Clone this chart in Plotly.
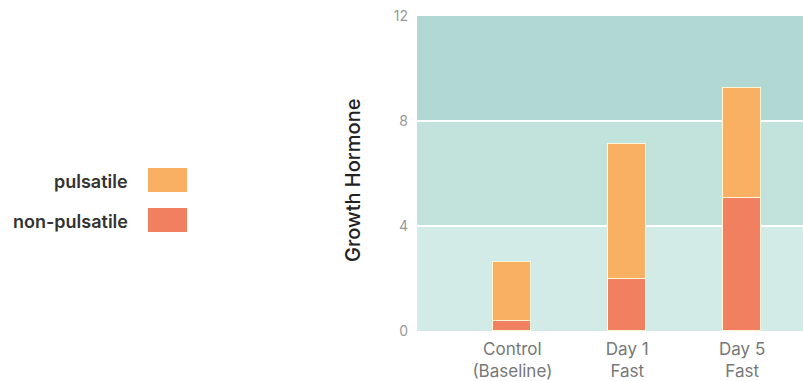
import plotly.graph_objects as go

# Chart data
categories = ["Control<br>(Baseline)", "Day 1<br>Fast", "Day 5<br>Fast"]
non_pulsatile = [0.4, 2.0, 5.05]
pulsatile_total = [2.62, 7.12, 9.26]
pulsatile = [t - n for t, n in zip(pulsatile_total, non_pulsatile)]
y_ticks = [0, 4, 8, 12]

series_names = ["pulsatile", "non-pulsatile"]
series_colors = ["#f9b063", "#f0805f"]

W, H = 803, 381
M_T, M_B = 16, 50
plot_left = 417
FONT = "Inter"


def py(px):
    """Convert a pixel row into paper y coordinates."""
    return 1 - (px - M_T) / (H - M_T - M_B)


fig = go.Figure()
fig.add_trace(go.Bar(x=[0, 1, 2], y=non_pulsatile, name=series_names[1],
                     marker=dict(color=series_colors[1], line=dict(color="#fff6d8", width=1.5)),
                     width=0.33))
fig.add_trace(go.Bar(x=[0, 1, 2], y=pulsatile, name=series_names[0],
                     marker=dict(color=series_colors[0], line=dict(color="#fff6d8", width=1.5)),
                     width=0.33))

# Banded background behind the bars
bands = [(0, 4, "#d3ebe6"), (4, 8, "#c2e2dc"), (8, 12, "#b1d8d2")]
shapes = []
for y0, y1, c in bands:
    shapes.append(dict(type="rect", xref="paper", yref="y", x0=plot_left / W, x1=1,
                       y0=y0, y1=y1, fillcolor=c, line=dict(width=0), layer="below"))

# Custom legend: label on the left, swatch on the right
annotations = []
legend_rows = [(series_names[0], series_colors[0], 180), (series_names[1], series_colors[1], 220)]
for name, color, yc in legend_rows:
    shapes.append(dict(type="rect", xref="paper", yref="paper",
                       x0=148 / W, x1=187 / W, y0=py(yc + 12), y1=py(yc - 12),
                       fillcolor=color, line=dict(width=0)))
    annotations.append(dict(xref="paper", yref="paper", x=130 / W, y=py(yc + 1),
                            text=name, showarrow=False, xanchor="right", yanchor="middle",
                            font=dict(family=FONT, size=18, color="#333333", weight=600)))

# Rotated y-axis title
annotations.append(dict(xref="paper", yref="paper", x=353 / W, y=py(181),
                        text="Growth Hormone", showarrow=False, textangle=-90,
                        xanchor="center", yanchor="middle",
                        font=dict(family=FONT, size=20, color="#222222", weight=500)))

fig.update_layout(
    width=W, height=H,
    margin=dict(l=0, r=0, t=M_T, b=M_B),
    barmode="stack",
    bargap=0,
    showlegend=False,
    plot_bgcolor="rgba(0,0,0,0)",
    paper_bgcolor="white",
    shapes=shapes,
    annotations=annotations,
    xaxis=dict(domain=[plot_left / W, 1], range=[-0.83, 2.53],
               tickvals=[0, 1, 2], ticktext=categories, showgrid=False, zeroline=False,
               showline=False, ticks="", automargin=False, ticklabelstandoff=6,
               tickfont=dict(family=FONT, size=17, color="#777777")),
    yaxis=dict(range=[0, 12], tickvals=y_ticks, showgrid=True, gridcolor="white", gridwidth=2,
               zeroline=False, showline=False, ticks="", ticklabelstandoff=8,
               automargin=False,
               tickfont=dict(family=FONT, size=14, color="#999999")),
    font=dict(family=FONT),
)

fig.write_html("out.html")
